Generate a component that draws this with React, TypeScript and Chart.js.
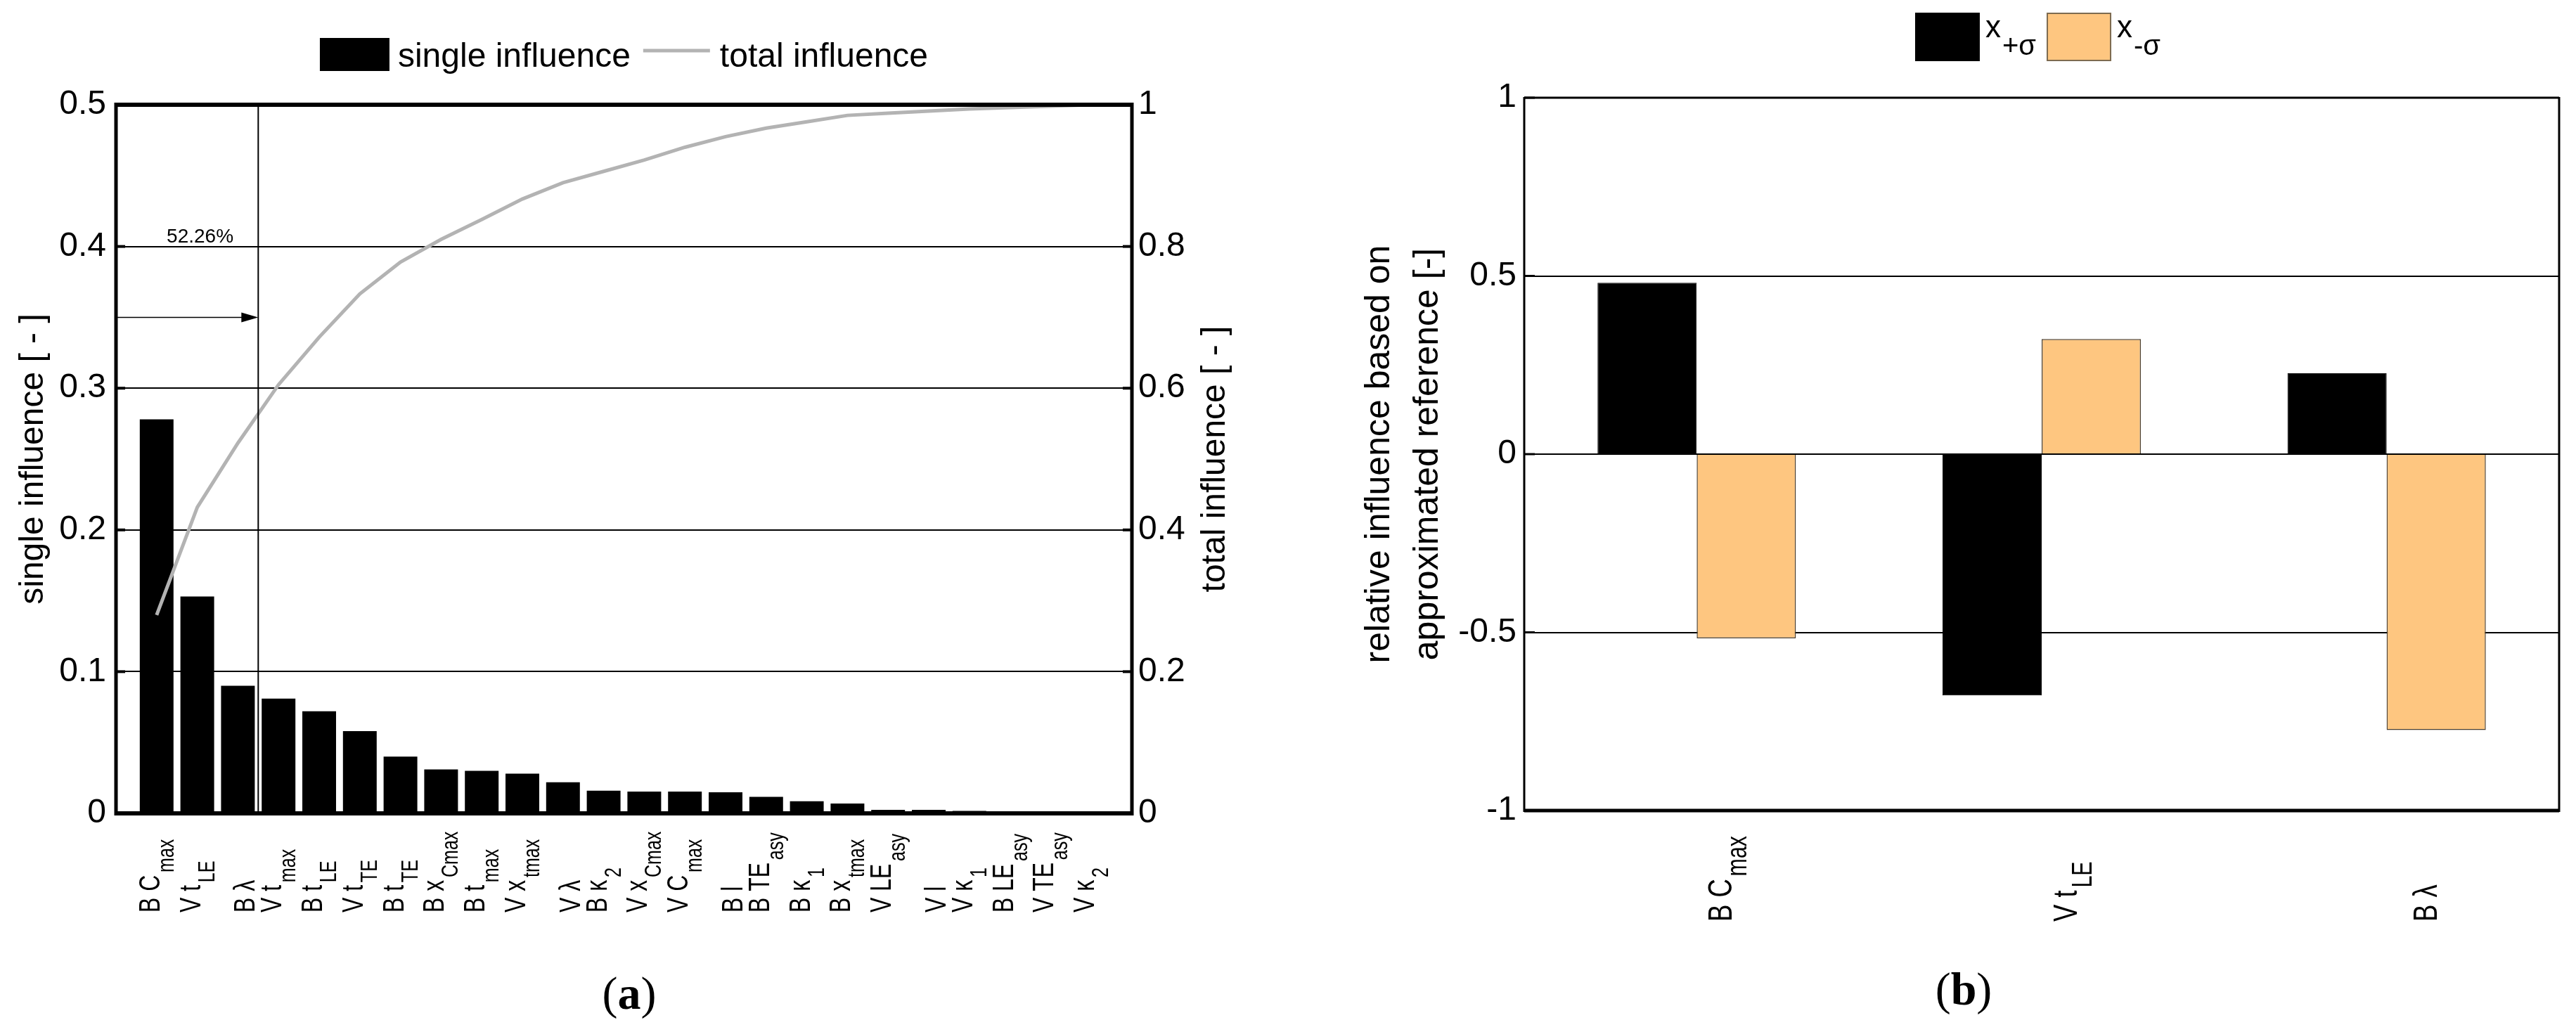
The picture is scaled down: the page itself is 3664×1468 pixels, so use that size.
import { useEffect, useRef } from "react"
import { Chart, registerables } from "chart.js"

Chart.register(...registerables)

const FONT = '"Liberation Sans", Arial, Helvetica, sans-serif'
const ORANGE = "#fec680"

// (a) factors sorted by single influence, label = main part + subscript
const factorMain = ["B C", "V t", "B λ", "V t", "B t", "V t", "B t", "B x", "B t", "V x", "V λ", "B κ", "V x", "V C", "B l", "B TE", "B κ", "B x", "V LE", "V l", "V κ", "B LE", "V TE", "V κ"]
const factorSub = ["max", "LE", "", "max", "LE", "TE", "TE", "Cmax", "max", "tmax", "", "2", "Cmax", "max", "", "asy", "1", "tmax", "asy", "", "1", "asy", "asy", "2"]
const singleInfluence = [0.278, 0.153, 0.09, 0.081, 0.072, 0.058, 0.04, 0.031, 0.03, 0.028, 0.022, 0.016, 0.0154, 0.0154, 0.0149, 0.0116, 0.0086, 0.0069, 0.0025, 0.0025, 0.0017, 0.001, 0.0002, 0.0002]
const totalInfluence = [0.28, 0.432, 0.5226, 0.605, 0.672, 0.733, 0.778, 0.81, 0.838, 0.867, 0.89, 0.906, 0.922, 0.94, 0.955, 0.967, 0.976, 0.985, 0.988, 0.991, 0.994, 0.996, 0.998, 1.0]
const singleTicks = [0, 0.1, 0.2, 0.3, 0.4, 0.5]
const totalTicks = [0, 0.2, 0.4, 0.6, 0.8, 1]
const markerValue = 0.35
const markerText = "52.26%"

// (b) relative influence of +/- sigma
const sensMain = ["B C", "V t", "B λ"]
const sensSub = ["max", "LE", ""]
const plusSigma = [0.481, -0.677, 0.227]
const minusSigma = [-0.517, 0.323, -0.774]
const sensTicks = [-1, -0.5, 0, 0.5, 1]

function seg(ctx: any, x1: number, y1: number, x2: number, y2: number, w: number) {
  ctx.lineWidth = w
  ctx.beginPath()
  ctx.moveTo(x1, y1)
  ctx.lineTo(x2, y2)
  ctx.stroke()
}

// rotated label with a subscript, reading bottom to top
function subLabel(ctx: any, x: number, y: number, main: string, sub: string, size: number, subSize: number, shift: number) {
  ctx.save()
  ctx.translate(x, y)
  ctx.rotate(-Math.PI / 2)
  ctx.scale(0.76, 1)
  ctx.fillStyle = "#000"
  ctx.textAlign = "left"
  ctx.textBaseline = "alphabetic"
  ctx.font = `${size}px ${FONT}`
  ctx.fillText(main, 0, 0)
  if (sub) {
    const w = ctx.measureText(main).width
    ctx.font = `${subSize}px ${FONT}`
    ctx.fillText(sub, w + 5, shift)
  }
  ctx.restore()
}

const fmt = (v: any) => String(Number(Number(v).toFixed(2)))

const leftDecor = {
  id: "leftDecor",
  afterDatasetsDraw(chart: any) {
    const { ctx, chartArea: a, scales } = chart
    const x = scales.x
    const y = scales.y
    ctx.save()
    ctx.strokeStyle = "#000"
    ctx.fillStyle = "#000"
    seg(ctx, a.left, a.top, a.right, a.top, 6)
    seg(ctx, a.left, a.bottom, a.right, a.bottom, 6)
    seg(ctx, a.left, a.top - 3, a.left, a.bottom + 3, 5)
    seg(ctx, a.right, a.top - 3, a.right, a.bottom + 3, 5)
    singleTicks.forEach((v) => {
      const py = y.getPixelForValue(v)
      seg(ctx, a.left, py, a.left + 13, py, 4)
      seg(ctx, a.right - 13, py, a.right, py, 4)
    })
    // 52.26 % marker
    const xv = (x.getPixelForValue(3) + x.getPixelForValue(4)) / 2
    seg(ctx, xv, a.top, xv, a.bottom, 2)
    const ya = y.getPixelForValue(markerValue)
    seg(ctx, a.left, ya, xv - 20, ya, 1.5)
    ctx.beginPath()
    ctx.moveTo(xv, ya)
    ctx.lineTo(xv - 24, ya - 7)
    ctx.lineTo(xv - 24, ya + 7)
    ctx.closePath()
    ctx.fill()
    ctx.font = `28px ${FONT}`
    ctx.textAlign = "center"
    ctx.textBaseline = "alphabetic"
    ctx.fillText(markerText, x.getPixelForValue(2) + 4, y.getPixelForValue(0.4) - 6)
    ctx.restore()
  },
  afterDraw(chart: any) {
    const { ctx, chartArea: a, scales } = chart
    const x = scales.x
    factorMain.forEach((m, i) => {
      const s = factorSub[i]
      const px = x.getPixelForValue(i + 1) + (s ? 4 : 24)
      subLabel(ctx, px, 1298, m, s, 42, 33, 20)
    })
    ctx.save()
    ctx.fillStyle = "#000"
    ctx.font = `48px ${FONT}`
    ctx.translate(a.right + 119, (a.top + a.bottom) / 2)
    ctx.rotate(-Math.PI / 2)
    ctx.textAlign = "center"
    ctx.textBaseline = "middle"
    ctx.fillText("total influence [ - ]", 0, 0)
    ctx.restore()

    // legend
    ctx.save()
    ctx.font = `48px ${FONT}`
    ctx.fillStyle = "#000"
    ctx.textBaseline = "alphabetic"
    ctx.textAlign = "left"
    const t1 = "single influence"
    const t2 = "total influence"
    const w1 = ctx.measureText(t1).width
    const w2 = ctx.measureText(t2).width
    const total = 99 + 12 + w1 + 18 + 95 + 14 + w2
    let lx = (a.left + a.right) / 2 - total / 2
    ctx.fillRect(lx, 54, 99, 47)
    lx += 111
    ctx.fillText(t1, lx, 95)
    lx += w1 + 18
    ctx.strokeStyle = "#b3b3b3"
    seg(ctx, lx, 72, lx + 95, 72, 5)
    lx += 109
    ctx.fillText(t2, lx, 95)
    ctx.restore()
  },
}

const rightDecor = {
  id: "rightDecor",
  afterDatasetsDraw(chart: any) {
    const { ctx, chartArea: a, scales } = chart
    const y = scales.y
    ctx.save()
    ctx.strokeStyle = "#000"
    seg(ctx, a.left, a.top, a.right, a.top, 3)
    seg(ctx, a.left, a.bottom, a.right, a.bottom, 5)
    seg(ctx, a.left, a.top - 1, a.left, a.bottom + 2, 3)
    seg(ctx, a.right, a.top - 1, a.right, a.bottom + 2, 3)
    sensTicks.forEach((v) => {
      const py = y.getPixelForValue(v)
      seg(ctx, a.left, py, a.left + 15, py, 3)
    })
    ctx.restore()
  },
  afterDraw(chart: any) {
    const { ctx, chartArea: a, scales } = chart
    const x = scales.x
    sensMain.forEach((m, i) => {
      const s = sensSub[i]
      const px = x.getPixelForValue(i) + (s ? 50 : 71)
      subLabel(ctx, px, 1311, m, s, 48, 40, 21)
    })

    // legend with subscripts
    ctx.save()
    ctx.textBaseline = "alphabetic"
    ctx.textAlign = "left"
    const items = [
      { fill: "#000", border: "#000", sub: "+σ" },
      { fill: ORANGE, border: "#7d6b50", sub: "-σ" },
    ]
    ctx.font = `44px ${FONT}`
    const xw = ctx.measureText("x").width
    ctx.font = `40px ${FONT}`
    const subW = items.map((it) => ctx.measureText(it.sub).width)
    const total = items.reduce((acc, _it, i) => acc + 90 + 9 + xw + 2 + subW[i], 0) + 16
    let lx = (a.left + a.right) / 2 - 5 - total / 2
    items.forEach((it, i) => {
      ctx.fillStyle = it.fill
      ctx.fillRect(lx, 19, 90, 67)
      ctx.strokeStyle = it.border
      ctx.lineWidth = 2
      ctx.strokeRect(lx, 19, 90, 67)
      lx += 99
      ctx.fillStyle = "#000"
      ctx.font = `44px ${FONT}`
      ctx.fillText("x", lx, 53)
      lx += xw + 2
      ctx.font = `40px ${FONT}`
      ctx.fillText(it.sub, lx, 78)
      lx += subW[i] + 16
    })
    ctx.restore()
  },
}

function tickFix(values: number[]) {
  return (s: any) => {
    s.ticks = values.map((v) => ({ value: v }))
  }
}

function InfluenceChart() {
  const chartRef = useRef<HTMLCanvasElement>(null)
  const chartInstance = useRef<Chart | null>(null)

  useEffect(() => {
    if (!chartRef.current) return
    if (chartInstance.current) chartInstance.current.destroy()
    const ctx = chartRef.current.getContext("2d")
    if (!ctx) return
    const labels = ["", ...factorMain.map((m, i) => m + factorSub[i]), ""]
    chartInstance.current = new Chart(ctx, {
      type: "bar",
      data: {
        labels,
        datasets: [
          {
            type: "line",
            label: "total influence",
            data: [null, ...totalInfluence, null],
            yAxisID: "y1",
            borderColor: "#b3b3b3",
            borderWidth: 5,
            pointRadius: 0,
            tension: 0,
            fill: false,
            order: 0,
          },
          {
            type: "bar",
            label: "single influence",
            data: [null, ...singleInfluence, null],
            yAxisID: "y",
            backgroundColor: "#000",
            borderWidth: 0,
            barPercentage: 0.83,
            categoryPercentage: 1,
            order: 1,
          },
        ] as any,
      },
      options: {
        animation: false,
        responsive: false,
        devicePixelRatio: 1,
        layout: { padding: { top: 149, left: 0, right: 0, bottom: 0 } },
        plugins: { legend: { display: false }, tooltip: { enabled: false } },
        scales: {
          x: {
            type: "category",
            offset: false,
            grid: { display: false },
            border: { display: false },
            ticks: { display: false },
            afterFit: (s: any) => {
              s.height = 311
            },
          },
          y: {
            position: "left",
            min: 0,
            max: 0.5,
            afterBuildTicks: tickFix(singleTicks),
            grid: { color: "#000", lineWidth: 2, drawTicks: false },
            border: { display: false },
            ticks: { color: "#000", padding: 14, font: { family: FONT, size: 48 }, callback: fmt },
            title: {
              display: true,
              text: "single influence [ - ]",
              color: "#000",
              font: { family: FONT, size: 48 },
              padding: { top: 19, bottom: 0 },
            },
            afterFit: (s: any) => {
              s.width = 165
            },
          },
          y1: {
            position: "right",
            min: 0,
            max: 1,
            afterBuildTicks: tickFix(totalTicks),
            grid: { drawOnChartArea: false, drawTicks: false },
            border: { display: false },
            ticks: { color: "#000", padding: 9, font: { family: FONT, size: 48 }, callback: fmt },
            afterFit: (s: any) => {
              s.width = 190
            },
          },
        },
      } as any,
      plugins: [leftDecor],
    })
    return () => {
      if (chartInstance.current) {
        chartInstance.current.destroy()
        chartInstance.current = null
      }
    }
  }, [])

  return <canvas ref={chartRef} width={1800} height={1468} style={{ position: "absolute", left: 0, top: 0 }} />
}

function SigmaChart() {
  const chartRef = useRef<HTMLCanvasElement>(null)
  const chartInstance = useRef<Chart | null>(null)

  useEffect(() => {
    if (!chartRef.current) return
    if (chartInstance.current) chartInstance.current.destroy()
    const ctx = chartRef.current.getContext("2d")
    if (!ctx) return
    chartInstance.current = new Chart(ctx, {
      type: "bar",
      data: {
        labels: sensMain.map((m, i) => m + sensSub[i]),
        datasets: [
          {
            label: "x+σ",
            data: plusSigma,
            backgroundColor: "#000",
            borderColor: "#000",
            borderWidth: 1,
            categoryPercentage: 0.575,
            barPercentage: 1,
          },
          {
            label: "x-σ",
            data: minusSigma,
            backgroundColor: ORANGE,
            borderColor: "#4a3f30",
            borderWidth: 1.5,
            categoryPercentage: 0.575,
            barPercentage: 1,
          },
        ],
      },
      options: {
        animation: false,
        responsive: false,
        devicePixelRatio: 1,
        layout: { padding: { top: 139, left: 0, right: 24, bottom: 0 } },
        plugins: { legend: { display: false }, tooltip: { enabled: false } },
        scales: {
          x: {
            offset: true,
            grid: { display: false },
            border: { display: false },
            ticks: { display: false },
            afterFit: (s: any) => {
              s.height = 315
            },
          },
          y: {
            min: -1,
            max: 1,
            afterBuildTicks: tickFix(sensTicks),
            grid: { color: "#000", lineWidth: 2, drawTicks: false },
            border: { display: false },
            ticks: { color: "#000", padding: 11, font: { family: FONT, size: 48 }, callback: fmt },
            title: {
              display: true,
              text: ["relative influence based on", "approximated reference [-]"],
              color: "#000",
              font: { family: FONT, size: 50, lineHeight: 1.38 },
              padding: { top: 96, bottom: 0 },
            },
            afterFit: (s: any) => {
              s.width = 336
            },
          },
        },
      } as any,
      plugins: [rightDecor],
    })
    return () => {
      if (chartInstance.current) {
        chartInstance.current.destroy()
        chartInstance.current = null
      }
    }
  }, [])

  return <canvas ref={chartRef} width={1832} height={1468} style={{ position: "absolute", left: 1832, top: 0 }} />
}

const captionStyle: any = {
  position: "absolute",
  width: 200,
  textAlign: "center",
  fontFamily: '"Liberation Serif", "Times New Roman", serif',
  fontSize: 66,
  lineHeight: "66px",
  color: "#000",
}

export default function App() {
  return (
    <div style={{ position: "absolute", left: 0, top: 0, width: 3664, height: 1468, background: "#fff", overflow: "hidden" }}>
      <InfluenceChart />
      <SigmaChart />
      <div style={{ ...captionStyle, left: 795, top: 1380 }}>
        (<b>a</b>)
      </div>
      <div style={{ ...captionStyle, left: 2693, top: 1374 }}>
        (<b>b</b>)
      </div>
    </div>
  )
}
